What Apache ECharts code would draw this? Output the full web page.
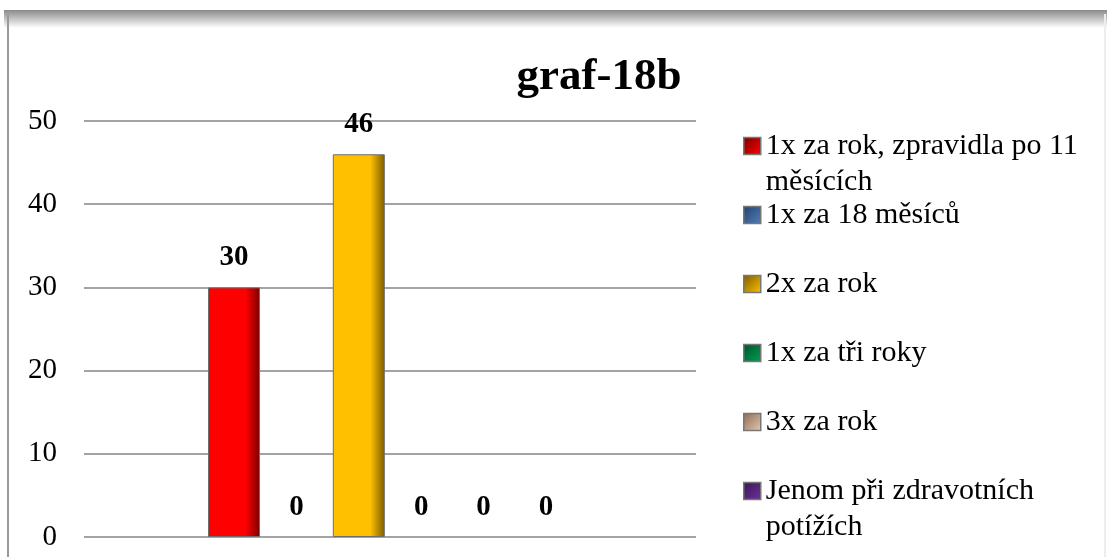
<!DOCTYPE html>
<html>
<head>
<meta charset="utf-8">
<script src="https://cdn.jsdelivr.net/npm/echarts@6/dist/echarts.min.js"></script>
<style>
  html, body { margin: 0; padding: 0; background: #fff; }
  #chart { width: 1107px; height: 557px; }
</style>
</head>
<body>
<div id="chart"></div>
<script>
// data
const seriesNames = [
  '1x za rok, zpravidla po 11 měsících',
  '1x za 18 měsíců',
  '2x za rok',
  '1x za tři roky',
  '3x za rok',
  'Jenom při zdravotních potížích'
]
// legend text as wrapped in the picture (leading blank line keeps the icon on the first line)
const legendLabels = [
  '\n1x za rok, zpravidla po 11\nměsících',
  '1x za 18 měsíců',
  '2x za rok',
  '1x za tři roky',
  '3x za rok',
  '\nJenom při zdravotních\npotížích'
]
const seriesValues = [30, 0, 46, 0, 0, 0]
const categories = ['']
// colours: [main, dark edge]
const barColors = [
  ['#ff0000', '#7a0000'],
  ['#4f81bd', '#24406a'],
  ['#ffc000', '#7a5c00'],
  ['#00a050', '#00502a'],
  ['#e6c8b0', '#8a6a55'],
  ['#7030a0', '#381850']
]
const legendCenters = [146, 215, 284, 353, 422, 491]

const FONT = '"Liberation Serif", "Times New Roman", serif'
const LH = 36

const chartsBox = echarts.init(document.getElementById('chart'))

const barGrad = (c) => new echarts.graphic.LinearGradient(0, 0, 1, 0, [
  { offset: 0, color: c[0] },
  { offset: 0.72, color: c[0] },
  { offset: 1, color: c[1] }
])
const iconGrad = (c) => new echarts.graphic.LinearGradient(1, 1, 0, 0, [
  { offset: 0, color: c[0] },
  { offset: 1, color: c[1] }
])

const series = seriesNames.map((name, i) => ({
  name: name,
  type: 'bar',
  barWidth: 52,
  barGap: '20%',
  data: [seriesValues[i]],
  itemStyle: {
    color: barGrad(barColors[i]),
    borderColor: '#6e6e6e',
    borderWidth: seriesValues[i] > 0 ? 1 : 0
  },
  label: {
    show: true,
    position: 'top',
    distance: 15,
    fontFamily: FONT,
    fontWeight: 'bold',
    fontSize: 29,
    color: '#000'
  },
  emphasis: { disabled: true }
}))

// one legend per item so the rows sit where the reference has them
const legends = seriesNames.map((name, i) => {
  const lines = legendLabels[i].split('\n').length
  return {
    orient: 'vertical',
    left: 743,
    top: legendCenters[i] - (LH * lines) / 2,
    padding: 0,
    itemWidth: 17,
    itemHeight: 17,
    itemGap: 0,
    selectedMode: false,
    data: [{
      name: name,
      icon: 'rect',
      itemStyle: { color: iconGrad(barColors[i]), borderColor: '#777', borderWidth: 1.5 }
    }],
    formatter: () => legendLabels[i],
    textStyle: {
      fontFamily: FONT,
      fontSize: 30,
      color: '#000',
      lineHeight: LH
    }
  }
})

const options = {
  animation: false,
  title: {
    text: 'graf-18b',
    left: 594,
    textAlign: 'center',
    top: 50,
    textStyle: {
      fontFamily: FONT,
      fontWeight: 'bold',
      fontSize: 45,
      color: '#000'
    }
  },
  graphic: [
    {
      type: 'rect',
      shape: { x: 4, y: 10, width: 1103, height: 18 },
      style: {
        fill: new echarts.graphic.LinearGradient(0, 0, 0, 1, [
          { offset: 0, color: '#8a8a8a' },
          { offset: 1, color: '#ffffff' }
        ])
      },
      silent: true
    },
    {
      type: 'line',
      shape: { x1: 8, y1: 14, x2: 8, y2: 557 },
      style: { stroke: '#9a9a9a', lineWidth: 2 },
      silent: true
    },
    {
      type: 'line',
      shape: { x1: 1105, y1: 14, x2: 1105, y2: 557 },
      style: { stroke: '#ededed', lineWidth: 2 },
      silent: true
    }
  ],
  legend: legends,
  grid: {
    left: 84,
    right: 411,
    top: 121,
    bottom: 20,
    containLabel: false
  },
  xAxis: {
    type: 'category',
    data: categories,
    axisLine: { show: false },
    axisTick: { show: false },
    axisLabel: { show: false }
  },
  yAxis: {
    type: 'value',
    min: 0,
    max: 50,
    interval: 10,
    axisLine: { show: false },
    axisTick: { show: false },
    axisLabel: {
      fontFamily: FONT,
      fontSize: 29,
      color: '#000',
      margin: 27
    },
    splitLine: {
      lineStyle: { color: '#858585', width: 1.6 }
    }
  },
  series
}

chartsBox.setOption(options, true)
</script>
</body>
</html>
